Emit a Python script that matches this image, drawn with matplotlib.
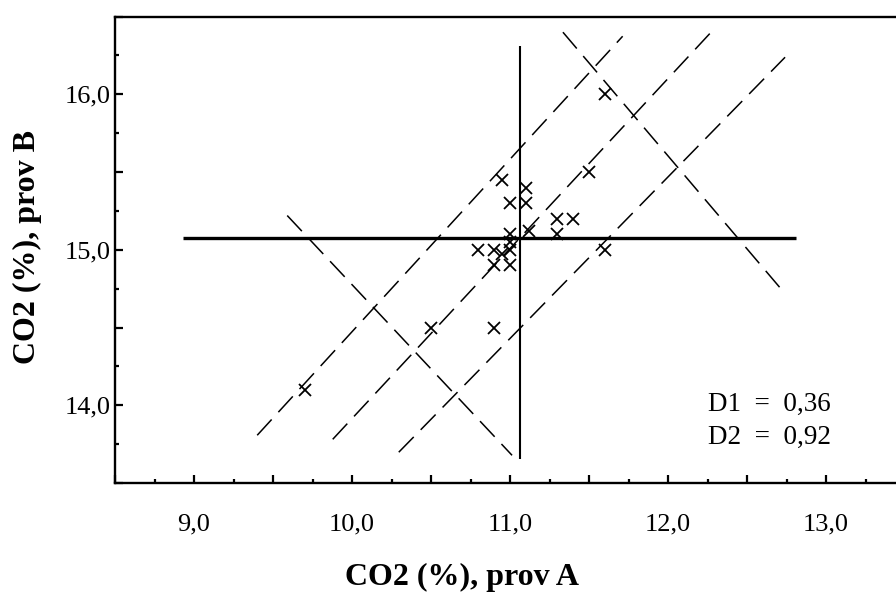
import matplotlib
matplotlib.use("Agg")
import matplotlib.pyplot as plt
from matplotlib.ticker import MultipleLocator, FuncFormatter

# ---- data ----
prov_a = [11.6, 10.95, 11.1, 11.0, 11.1, 11.5, 11.3, 11.4, 11.12, 11.0, 11.3,
          11.0, 11.0, 10.8, 10.9, 10.95, 11.6, 10.9, 11.0, 10.5, 10.9, 9.7]
prov_b = [16.0, 15.45, 15.4, 15.3, 15.3, 15.5, 15.2, 15.2, 15.12, 15.1, 15.1,
          15.05, 15.0, 15.0, 15.0, 14.97, 15.0, 14.9, 14.9, 14.5, 14.5, 14.1]

mean_a = 11.063
mean_b = 15.075
hline_x = [8.93, 12.81]
vline_y = [13.653, 16.31]

# dashed reference lines: (x0, y0, x1, y1)
diag_lines = [
    (9.40, 13.807, 11.713, 16.373),
    (9.878, 13.781, 12.278, 16.405),
    (10.296, 13.698, 12.741, 16.238),
]
perp_lines = [
    (11.335, 16.399, 12.728, 14.733),
    (9.59, 15.22, 11.013, 13.678),
]

annot = ["D1  =  0,36", "D2  =  0,92"]
xlabel = "CO2 (%), prov A"
ylabel = "CO2 (%), prov B"

plt.rcParams['font.family'] = ['Liberation Serif', 'DejaVu Serif']

W, H = 896, 594
fig = plt.figure(figsize=(W / 100, H / 100), dpi=100)
ax = fig.add_axes([115 / W, 111 / H, 790 / W, 466.5 / H])
ax.set_xlim(8.5, 13.5)
ax.set_ylim(13.5, 16.5)

for x0, y0, x1, y1 in diag_lines + perp_lines:
    ax.plot([x0, x1], [y0, y1], color='black', lw=1.1, dashes=(14, 6.5))

ax.plot(hline_x, [mean_b, mean_b], color='black', lw=2.4, solid_capstyle='butt')
ax.plot([mean_a, mean_a], vline_y, color='black', lw=1.5, solid_capstyle='butt')

ax.plot(prov_a, prov_b, linestyle='none', marker='x', ms=8.5, mew=1.3, color='black')

ax.text(0.828, 0.133, annot[0] + "\n" + annot[1], transform=ax.transAxes,
        ha='center', va='center', fontsize=19.5, linespacing=1.4)

for s in ['left', 'bottom', 'top']:
    ax.spines[s].set_linewidth(1.7)
ax.spines['right'].set_visible(False)

ax.xaxis.set_major_locator(MultipleLocator(0.5))
ax.xaxis.set_minor_locator(MultipleLocator(0.25))
ax.yaxis.set_major_locator(MultipleLocator(0.5))
ax.yaxis.set_minor_locator(MultipleLocator(0.25))

def fmt(v, pos):
    if abs(v - round(v)) < 1e-6:
        return ("%.1f" % v).replace('.', ',')
    return ""

ax.xaxis.set_major_formatter(FuncFormatter(fmt))
ax.yaxis.set_major_formatter(FuncFormatter(fmt))
ax.tick_params(which='both', direction='in', width=1.6, labelsize=19)
ax.tick_params(which='major', length=5.5)
ax.tick_params(which='minor', length=3)
ax.tick_params(axis='x', which='major', pad=22)
ax.tick_params(axis='y', which='major', pad=3)
ax.tick_params(top=False, right=False, which='both')

fig.text(462 / W, 1 - 577 / H, xlabel, ha='center', va='center',
         fontsize=23, fontweight='bold')
fig.text(27 / W, 1 - 247 / H, ylabel, ha='center', va='center',
         fontsize=23, fontweight='bold', rotation=90)

fig.savefig("out.png", dpi=100)
